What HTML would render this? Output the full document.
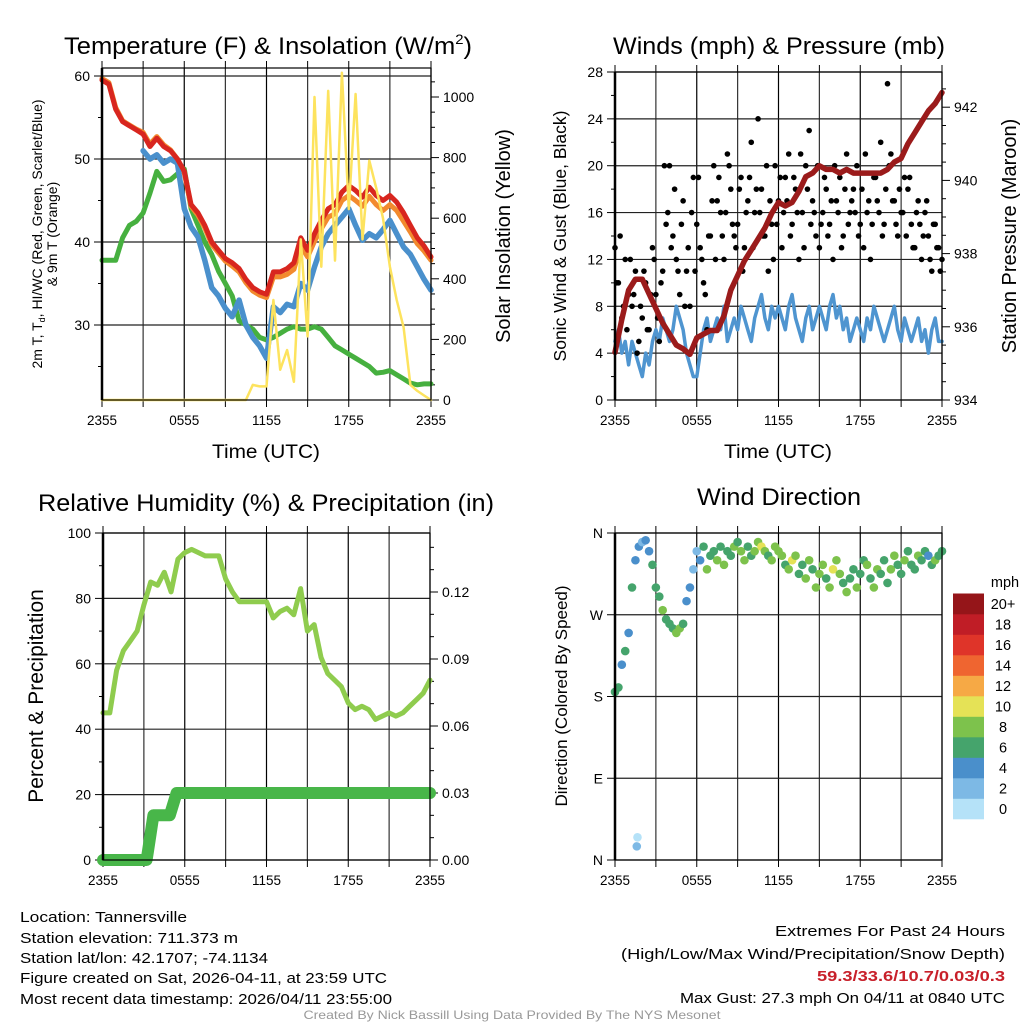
<!DOCTYPE html>
<html><head><meta charset="utf-8"><style>
html,body{margin:0;padding:0;background:#fff;}
svg{display:block;font-family:"Liberation Sans",sans-serif;}
</style></head><body>
<svg id="chart" width="1024" height="1024" viewBox="0 0 1024 1024" xmlns="http://www.w3.org/2000/svg">
<rect width="1024" height="1024" fill="#fff"/>
<g id="p1"></g>
<g id="p2"></g>
<g id="p3"></g>
<g id="p4"></g>
<g font-size="24" fill="#000">
<text x="64" y="54" textLength="408" lengthAdjust="spacingAndGlyphs">Temperature (F) &amp; Insolation (W/m<tspan font-size="14" dy="-10">2</tspan><tspan dy="10">)</tspan></text>
<text x="613" y="54" textLength="332" lengthAdjust="spacingAndGlyphs">Winds (mph) &amp; Pressure (mb)</text>
<text x="38" y="511" textLength="456" lengthAdjust="spacingAndGlyphs">Relative Humidity (%) &amp; Precipitation (in)</text>
<text x="697" y="505" textLength="164" lengthAdjust="spacingAndGlyphs">Wind Direction</text>
</g>
<g fill="#000">
<text x="266" y="458" font-size="19" text-anchor="middle" textLength="108" lengthAdjust="spacingAndGlyphs">Time (UTC)</text>
<text x="778" y="458" font-size="19" text-anchor="middle" textLength="108" lengthAdjust="spacingAndGlyphs">Time (UTC)</text>
<text transform="translate(42,234) rotate(-90)" font-size="14" text-anchor="middle">2m T, T<tspan font-size="9" dy="3">d</tspan><tspan dy="-3">, HI/WC (Red, Green, Scarlet/Blue)</tspan></text>
<text transform="translate(57,234) rotate(-90)" font-size="14" text-anchor="middle">&amp; 9m T (Orange)</text>
<text transform="translate(510,236) rotate(-90)" font-size="20" text-anchor="middle">Solar Insolation (Yellow)</text>
<text transform="translate(566,236) rotate(-90)" font-size="17.5" text-anchor="middle">Sonic Wind &amp; Gust (Blue, Black)</text>
<text transform="translate(1016,236) rotate(-90)" font-size="20" text-anchor="middle">Station Pressure (Maroon)</text>
<text transform="translate(43,696) rotate(-90)" font-size="21" text-anchor="middle">Percent &amp; Precipitation</text>
<text transform="translate(567,696) rotate(-90)" font-size="17" text-anchor="middle">Direction (Colored By Speed)</text>
</g>
<g font-size="15" fill="#000">
<text x="20" y="922" textLength="167" lengthAdjust="spacingAndGlyphs">Location: Tannersville</text>
<text x="20" y="943" textLength="218" lengthAdjust="spacingAndGlyphs">Station elevation: 711.373 m</text>
<text x="20" y="963" textLength="248" lengthAdjust="spacingAndGlyphs">Station lat/lon: 42.1707; -74.1134</text>
<text x="20" y="983" textLength="367" lengthAdjust="spacingAndGlyphs">Figure created on Sat, 2026-04-11, at 23:59 UTC</text>
<text x="20" y="1004" textLength="372" lengthAdjust="spacingAndGlyphs">Most recent data timestamp: 2026/04/11 23:55:00</text>
<text x="1005" y="936" text-anchor="end" textLength="230" lengthAdjust="spacingAndGlyphs">Extremes For Past 24 Hours</text>
<text x="1005" y="959" text-anchor="end" textLength="384" lengthAdjust="spacingAndGlyphs">(High/Low/Max Wind/Precipitation/Snow Depth)</text>
<text x="1005" y="981" text-anchor="end" fill="#c8202a" font-weight="bold" textLength="188" lengthAdjust="spacingAndGlyphs">59.3/33.6/10.7/0.03/0.3</text>
<text x="1005" y="1003" text-anchor="end" textLength="325" lengthAdjust="spacingAndGlyphs">Max Gust: 27.3 mph On 04/11 at 0840 UTC</text>
<text x="512" y="1019" text-anchor="middle" font-size="12" fill="#999" textLength="417" lengthAdjust="spacingAndGlyphs">Created By Nick Bassill Using Data Provided By The NYS Mesonet</text>
</g>
</svg>
<script>
// ---- data (half-hour steps from 2355 UTC, 49 points) ----
const timeLabels = ["2355","0555","1155","1755","2355"];
const tempRed = [59.5,59,56,54.5,54,53.5,53,51.5,52.5,51.5,51,50,48.5,44.5,43.5,42,40,39,38,37.5,36.8,35.5,34.5,34,33.7,36.4,36.4,36.8,37.5,40.5,39,41,42.6,44,44.5,46,46.8,46.2,45.4,46.6,45.6,45,45.6,44.8,43.5,42,40.5,39.5,38.2];
const tempOrange = [59.7,59.2,56.2,54.6,54.1,53.6,53.2,51.8,52.7,51.7,51.1,50,48.3,44.3,43.2,41.7,39.7,38.7,37.7,37.1,36.4,35.1,34.1,33.6,33.3,35.8,35.8,36.1,36.7,39.5,38.2,40.1,41.6,43,43.4,45,45.6,45,44.3,45.5,44.5,43.8,44.5,43.8,42.5,41.2,39.8,38.9,37.8];
const tempBlue = [null,null,null,null,null,null,51,50,50.5,49.5,50,49.5,44,41.8,40.6,37.8,34.5,33.5,32,31,33,30,28.5,27.5,26,32.2,31.5,32.5,32.2,35,34.2,37,39.4,41,42,43,44,42,40.2,41,40.5,41.5,42.6,41,39.4,38.5,37,35.5,34.2];
const dewGreen = [37.8,37.8,37.8,40.5,42,42.5,43.5,45.9,48.5,47.3,47.5,48.2,48.8,44,42,40,38.5,36.5,35,33.5,30.5,30,29.5,28.5,28.2,28.5,29,29.5,29.8,29.5,29.5,29.8,29.5,28.5,27.5,27,26.5,26,25.5,25,24.2,24.3,24.5,24,23.5,23,22.8,22.9,22.9];
const solar = [0,0,0,0,0,0,0,0,0,0,0,0,0,0,0,0,0,0,0,0,0,0,50,45,45,330,100,165,60,530,210,1000,440,1020,460,1080,630,1010,530,790,700,600,440,330,240,50,30,15,0];
const pressure = [935.3,936.2,937,937.3,937.3,936.9,936.5,936.1,935.8,935.5,935.4,935.25,935.7,935.8,935.9,935.9,936.3,937,937.4,937.8,938.1,938.4,938.7,939.1,939.4,939.3,939.4,939.7,940.1,940.2,940.4,940.3,940.3,940.2,940.3,940.2,940.2,940.2,940.2,940.2,940.3,940.5,940.6,941,941.3,941.6,941.9,942.1,942.4];
const humidity = [45,45,58,64,67,70,78,85,84,88,82,92,94,95,94,93,93,93,86,82,79,79,79,79,79,74,76,77,75,83,70,72,62,57,55,53,48,46,47,46,43,44,45,44,45,47,49,51,55];
// ---- quarter-hour data (97 points) ----
const windSpeed = [5,6,4,5,3,5,4,3,2,4,3,5,6,5,7,6,5,6,8,7,6,4,3,2,2,4,6,7,5,6,7,6,8,5,6,7,6,8,7,6,5,7,8,9,7,6,8,7,8,7,6,8,9,7,6,5,7,8,6,7,8,7,6,8,9,7,8,6,7,5,6,7,6,5,7,6,8,7,6,5,6,7,8,6,5,7,6,5,6,7,5,6,4,6,7,5,5];
const windGust = [13,10,7,12,9,8,11,5,7,10,6,13,9,5,11,15,20,14,12,9,17,11,8,19,15,13,10,6,14,20,17,16,12,21,18,14,15,19,13,17,22,16,24,18,14,11,15,20,17,13,19,21,15,18,12,16,20,23,17,14,13,16,18,15,12,17,19,14,21,16,18,20,15,13,16,12,19,17,22,15,27,21,17,14,16,19,18,15,13,17,12,16,14,11,15,13,12];
const windGust2 = [10,14,8,6,12,9,4,8,11,6,9,12,7,10,20,16,13,18,11,15,8,13,16,11,19,12,9,14,17,12,19,14,16,20,15,13,18,11,16,19,13,18,16,14,20,17,12,15,19,16,17,14,19,16,21,13,18,15,16,20,15,19,14,17,20,16,13,18,15,17,16,14,18,21,17,15,19,16,14,18,20,17,15,18,16,14,19,13,16,15,14,17,12,15,13,11];
const windDir = [185,190,215,230,250,300,330,345,350,352,340,325,300,290,275,265,260,255,250,255,260,285,300,320,340,330,345,320,335,340,330,345,325,340,335,345,350,340,330,345,335,340,350,345,340,335,330,345,340,335,325,320,330,335,315,325,310,330,320,300,315,325,310,300,320,330,315,305,295,310,320,300,315,330,325,310,300,320,315,330,305,320,335,325,315,330,340,325,320,335,330,340,335,325,330,335,340];
const outlierTime = [1.6,1.65];
const outlierDir = [15,25];
const outlierSpeed = [2,0];
const precipTime = [0,3.2,3.3,3.5,3.7,4.9,5.2,5.4,24];
const precipValue = [0,0,0.004,0.012,0.02,0.02,0.026,0.03,0.03];
const speedLabels = ["0","2","4","6","8","10","12","14","16","18","20+"];
const speedColors = ["#b5e2f8","#7db9e5","#4a8fcb","#45a46c","#7dc24c","#e5e256","#f6a945","#ef6530","#df3429","#c01d26","#951519"];

const NS="http://www.w3.org/2000/svg";
function mk(parent,tag,attrs){const e=document.createElementNS(NS,tag);for(const k in attrs)e.setAttribute(k,attrs[k]);parent.appendChild(e);return e;}
function mkText(parent,x,y,str,size,anchor){const t=mk(parent,'text',{x:x,y:y,'font-size':size,'text-anchor':anchor||'middle'});t.textContent=str;return t;}

function panel(g,P){
  const xs=t=>P.x0+t*(P.x1-P.x0)/24;
  for(let h=0;h<=24;h+=3){
    const l=mk(g,'line',{x1:xs(h),x2:xs(h),y1:P.top,y2:P.bot,stroke:h%6==0?'#000':'#333','stroke-width':1.2});
    
    
    mk(g,'line',{x1:xs(h),x2:xs(h),y1:P.top-7,y2:P.top,stroke:'#000','stroke-width':1});
    mk(g,'line',{x1:xs(h),x2:xs(h),y1:P.bot,y2:P.bot+7,stroke:'#000','stroke-width':1});
  }
  timeLabels.forEach((s,i)=>{
    const t=mkText(g,xs(i*6),P.bot+25,s,13.5);
    
    
  });
  return xs;
}
function leftAxis(g,P,ticks,minor,yf,labels){
  ticks.forEach((v,i)=>{
    const y=yf(v);
    const l=mk(g,'line',{x1:P.x0,x2:P.x1,y1:y,y2:y,stroke:'#222','stroke-width':1.2});
    
    
    mk(g,'line',{x1:P.x0-8,x2:P.x0,y1:y,y2:y,stroke:'#000','stroke-width':1});
    const t=mkText(g,P.x0-12,y+5,labels?labels[i]:String(v),14,'end');
    
    
  });
  minor.forEach(v=>{const y=yf(v);mk(g,'line',{x1:P.x0-4,x2:P.x0,y1:y,y2:y,stroke:'#000','stroke-width':1});});
}
function rightAxis(g,P,ticks,minor,yf,fmt){
  ticks.forEach(v=>{
    const y=yf(v);
    mk(g,'line',{x1:P.x1,x2:P.x1+8,y1:y,y2:y,stroke:'#000','stroke-width':1});
    const t=mkText(g,P.x1+12,y+5,fmt(v),14,'start');
    
    
  });
  minor.forEach(v=>{const y=yf(v);mk(g,'line',{x1:P.x1,x2:P.x1+4,y1:y,y2:y,stroke:'#000','stroke-width':1});});
}
function frame(g,P){
  const f=mk(g,'rect',{x:P.x0,y:P.top,width:P.x1-P.x0,height:P.bot-P.top,fill:'none',stroke:'#000','stroke-width':1.2});
  
  
  mk(g,'line',{x1:P.x0,x2:P.x0,y1:P.top,y2:P.bot,stroke:'#000','stroke-width':2.5});
}
function line(g,vals,step,xs,yf,color,w,name){
  let d='',pen=false;
  vals.forEach((v,i)=>{if(v===null){pen=false;return;}d+=(pen?'L':'M')+xs(i*step).toFixed(1)+','+yf(v).toFixed(1);pen=true;});
  const p=mk(g,'path',{d:d,fill:'none',stroke:color,'stroke-width':w,'stroke-linejoin':'round','stroke-linecap':'round'});
  
  
  return p;
}

(function(){
  const g=document.getElementById('p1');
  const P={x0:102,x1:431,top:68,bot:400};
  const yL=v=>325-(v-30)*8.3, yR=v=>400-v*0.303;
  const xs=panel(g,P);
  leftAxis(g,P,[30,40,50,60],[25,35,45,55],yL);
  rightAxis(g,P,[0,200,400,600,800,1000],[50,100,150,250,300,350,450,500,550,650,700,750,850,900,950,1050],yR,v=>String(v));
  line(g,dewGreen,0.5,xs,yL,'#46b03f',5,'dewpoint-line');
  line(g,tempOrange,0.5,xs,yL,'#f28a2e',5,'9m-temp-line');
  line(g,tempBlue,0.5,xs,yL,'#4a90cc',5.5,'heat-index-line');
  line(g,tempRed,0.5,xs,yL,'#d8261f',5,'2m-temp-line');
  line(g,solar,0.5,xs,yR,'#fde35e',2.5,'solar-line');
  frame(g,P);
})();

(function(){
  const g=document.getElementById('p2');
  const P={x0:615,x1:942,top:72,bot:400};
  const yL=v=>400-v*(328/28), yR=v=>400-(v-934)*36.6;
  const xs=panel(g,P);
  leftAxis(g,P,[0,4,8,12,16,20,24,28],[2,6,10,14,18,22,26],yL);
  rightAxis(g,P,[934,936,938,940,942],[934.5,935,935.5,936.5,937,937.5,938.5,939,939.5,940.5,941,941.5,942.5],yR,v=>String(v));
  line(g,windSpeed,0.25,xs,yL,'#4f95d0',3.5,'wind-speed-line');
  windGust.forEach((v,i)=>{
    const c=mk(g,'circle',{cx:xs(i*0.25),cy:yL(v),r:2.8,fill:'#000'});
    
    
  });
  windGust2.forEach((v,i)=>{
    const c=mk(g,'circle',{cx:xs(i*0.25+0.125),cy:yL(v),r:2.8,fill:'#000'});
    
    
  });
  line(g,pressure,0.5,xs,yR,'#9b1b1b',5.5,'pressure-line');
  frame(g,P);
})();

(function(){
  const g=document.getElementById('p3');
  const P={x0:103,x1:430,top:533,bot:860};
  const yL=v=>860-v*3.27, yR=v=>860-v*(67/0.03);
  const xs=panel(g,P);
  leftAxis(g,P,[0,20,40,60,80,100],[10,30,50,70,90],yL);
  rightAxis(g,P,[0,0.03,0.06,0.09,0.12],[0.01,0.02,0.04,0.05,0.07,0.08,0.10,0.11,0.13,0.14],yR,v=>v.toFixed(2));
  line(g,humidity,0.5,xs,yL,'#8fcc4e',5,'humidity-line');
  let d='';
  precipTime.forEach((t,i)=>{d+=(i?'L':'M')+xs(t).toFixed(1)+','+yR(precipValue[i]).toFixed(1);});
  const p=mk(g,'path',{d:d,fill:'none',stroke:'#48b649','stroke-width':12,'stroke-linejoin':'round','stroke-linecap':'round'});
  
  
  frame(g,P);
})();

(function(){
  const g=document.getElementById('p4');
  const P={x0:615,x1:942,top:533,bot:860};
  const yD=v=>860-v*(327/360);
  const xs=panel(g,P);
  leftAxis(g,P,[0,90,180,270,360],[],yD,["N","E","S","W","N"]);
  const col=s=>speedColors[Math.min(10,Math.max(0,Math.round(s/2)))];
  windDir.forEach((v,i)=>{
    const c=mk(g,'circle',{cx:xs(i*0.25),cy:yD(v),r:4.3,fill:col(windSpeed[i])});
    
    
  });
  outlierDir.forEach((v,i)=>{
    const c=mk(g,'circle',{cx:xs(outlierTime[i]),cy:yD(v),r:4.3,fill:col(outlierSpeed[i])});
    
    
  });
  frame(g,P);
  const cb=mk(g,'g',{});
  
  
  const bh=20.5, by=819;
  speedLabels.forEach((s,i)=>{
    const r=mk(cb,'rect',{x:953,y:by-(i+1)*bh,width:31,height:bh+0.3,fill:speedColors[i]});
    
    
    const t=mkText(cb,1003,by-i*bh-bh/2+5,s,14.5,'middle');
    
    
  });
  const u=mkText(cb,1005,587,'mph',14.5,'middle');
  
  
})();
</script>
</body></html>
